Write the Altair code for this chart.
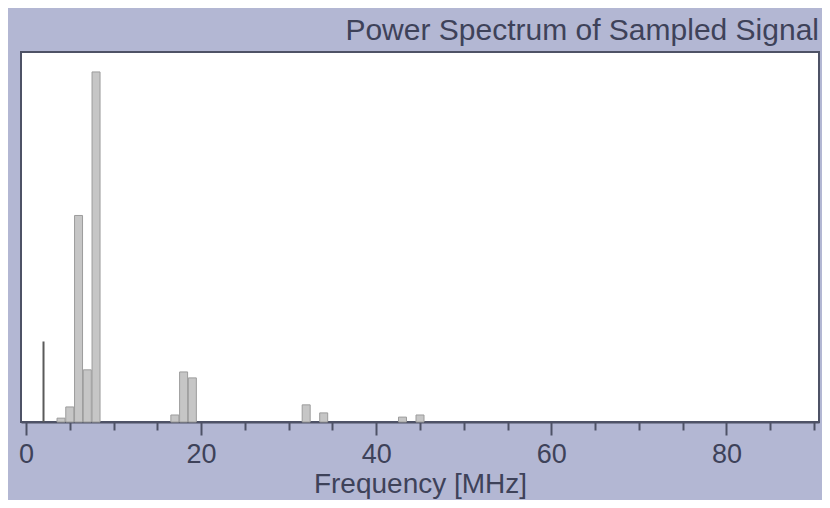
import altair as alt
import pandas as pd

# Spectrum components (frequency in MHz, relative power)
freq_mhz = [4, 5, 6, 7, 8, 17, 18, 19, 32, 34, 43, 45]
power = [0.011, 0.043, 0.59, 0.149, 1.0, 0.02, 0.143, 0.126, 0.049, 0.026, 0.014, 0.02]
line_freq = [2]
line_power = [0.23]

x_ticks = list(range(0, 95, 5))
chart_title = "Power Spectrum of Sampled Signal"
x_title = "Frequency [MHz]"

bars_df = pd.DataFrame({"f": freq_mhz, "p": power})
line_df = pd.DataFrame({"f": line_freq, "p": line_power})

FONT = "Liberation Sans"
TEXT = "#3e4259"
AXIS = "#4e5266"

x_enc = alt.X(
    "f:Q",
    scale=alt.Scale(domain=[0, 90], nice=False, zero=True),
    axis=alt.Axis(
        values=x_ticks,
        labelExpr="datum.value % 20 === 0 ? datum.label : ''",
        title=x_title,
        grid=False,
        labelFlush=False,
        tickSize={"condition": {"test": "datum.value % 20 === 0", "value": 13}, "value": 8},
    ),
)
y_enc = alt.Y("p:Q", scale=alt.Scale(domain=[0, 1.057], nice=False), axis=None)

bars = alt.Chart(bars_df).mark_bar(size=8, color="#c6c6c6", stroke="#9c9c9c", strokeWidth=1).encode(
    x=x_enc, y=y_enc
)
line = alt.Chart(line_df).mark_bar(size=2, color="#5a5a5a").encode(x=x_enc, y=y_enc)

chart = (
    alt.layer(bars, line)
    .properties(
        width=798,
        height=370,
        autosize=alt.AutoSizeParams(type="none"),
        padding={"left": 13, "top": 44, "right": 3, "bottom": 78},
        background="#b3b7d3",
        title=alt.TitleParams(
            text=chart_title,
            anchor="end",
            fontSize=30,
            font=FONT,
            fontWeight="normal",
            color=TEXT,
            offset=6,
        ),
    )
    .configure_view(fill="white", stroke=AXIS, strokeWidth=2)
    .configure_axis(
        domainColor=AXIS,
        domainWidth=2,
        tickColor=AXIS,
        tickWidth=2,
        labelFont=FONT,
        labelFontSize=27,
        labelColor=TEXT,
        labelPadding=6,
        titleFont=FONT,
        titleFontSize=28,
        titleFontWeight="normal",
        titleColor=TEXT,
        titlePadding=3.5,
    )
)

chart.save("out.html", embed_options={"renderer": "svg", "actions": False})
